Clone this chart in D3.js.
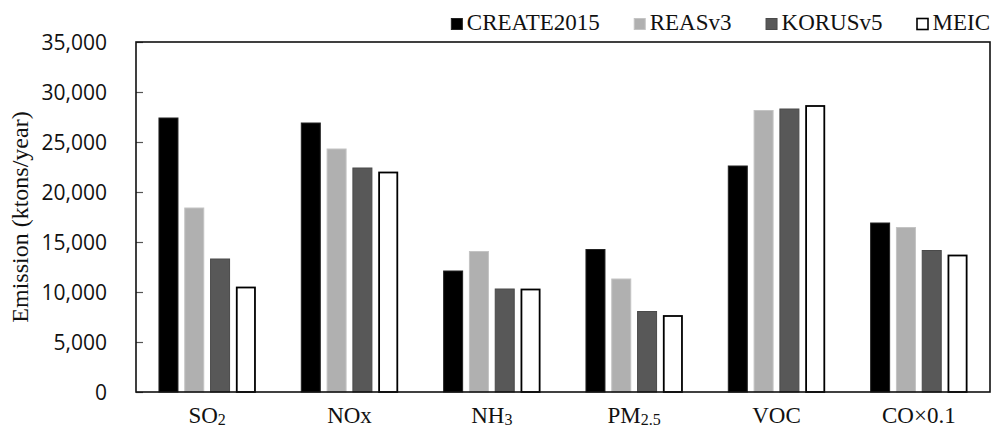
<!DOCTYPE html>
<html>
<head>
<meta charset="utf-8">
<script src="https://cdn.jsdelivr.net/npm/d3@7"></script>
<style>
  html, body { margin: 0; padding: 0; background: #fff; }
  svg { display: block; }
</style>
</head>
<body>
<svg id="chart" width="992" height="431"></svg>
<script>
// Pollutant categories (label parts: [text, isSubscript])
const categories = ["SO2", "NOx", "NH3", "PM2.5", "VOC", "CO×0.1"];
const categoryLabels = [
  [["SO", false], ["2", true]],
  [["NOx", false]],
  [["NH", false], ["3", true]],
  [["PM", false], ["2.5", true]],
  [["VOC", false]],
  [["CO×0.1", false]]
];

// Emission inventories
const series = ["CREATE2015", "REASv3", "KORUSv5", "MEIC"];

// Annual emissions (ktons/year) per inventory, in category order
const create2015 = [27400, 26900, 12100, 14250, 22600, 16900];
const reasv3     = [18400, 24300, 14050, 11300, 28150, 16450];
const korusv5    = [13300, 22400, 10300,  8050, 28300, 14150];
const meic       = [10450, 21950, 10250,  7600, 28600, 13650];

const yTicks = [0, 5000, 10000, 15000, 20000, 25000, 30000, 35000];

const seriesValues = [create2015, reasv3, korusv5, meic];
const fills   = ["#000000", "#b0b0b0", "#585858", "#ffffff"];
const strokes = ["#222222", "#c4c4c4", "#4a4a4a", "#000000"];
const strokeW = [1, 1, 1, 1.8];

const svg = d3.select("#chart");
const plotL = 136, plotR = 990, plotT = 42, plotB = 392;

const x0 = d3.scaleBand().domain(categories).range([plotL, plotR]).padding(0);
const bw0 = x0.bandwidth();
const x1 = d3.scaleBand().domain(series)
  .range([(bw0 - 97.4) / 2, (bw0 + 97.4) / 2])
  .paddingInner(0.225).paddingOuter(0);
const y = d3.scaleLinear().domain([0, 35000]).range([plotB, plotT]);

const serif = "'Liberation Serif', 'Times New Roman', serif";
const sans = "'Open Sans', 'Noto Sans', sans-serif";

// Bars
const rows = categories.map((c, i) => ({ cat: c, vals: series.map((s, j) => ({ s, j, v: seriesValues[j][i] })) }));
const g = svg.append("g");
g.selectAll("g.cat").data(rows).join("g")
  .attr("class", "cat")
  .attr("transform", d => `translate(${x0(d.cat)},0)`)
  .selectAll("rect").data(d => d.vals).join("rect")
  .attr("x", d => x1(d.s) + strokeW[d.j] / 2)
  .attr("width", d => x1.bandwidth() - strokeW[d.j])
  .attr("y", d => y(d.v))
  .attr("height", d => y(0) - y(d.v))
  .attr("fill", d => fills[d.j])
  .attr("stroke", d => strokes[d.j])
  .attr("stroke-width", d => strokeW[d.j]);

// Y axis with inward ticks
const yAxis = d3.axisRight(y).tickValues(yTicks).tickSize(7).tickFormat("");
const ya = svg.append("g").attr("transform", `translate(${plotL},0)`).call(yAxis);
ya.select(".domain").remove();
ya.selectAll(".tick line").attr("stroke", "#555").attr("stroke-width", 1.2);

svg.append("g").selectAll("text").data(yTicks).join("text")
  .attr("x", 107).attr("y", d => y(d)).attr("dy", "0.36em")
  .attr("text-anchor", "end")
  .attr("font-family", sans).attr("font-size", 21).attr("fill", "#111")
  .text(d3.format(","));

// Plot frame
svg.append("rect")
  .attr("x", plotL).attr("y", plotT)
  .attr("width", plotR - plotL).attr("height", plotB - plotT)
  .attr("fill", "none").attr("stroke", "#111").attr("stroke-width", 1.6);

// Category labels with lowered subscripts
const xl = svg.append("g").selectAll("text").data(categories).join("text")
  .attr("x", d => x0(d) + bw0 / 2).attr("y", 423)
  .attr("text-anchor", "middle")
  .attr("font-family", serif).attr("font-size", 23).attr("fill", "#111");
xl.each(function(d, i) {
  const t = d3.select(this);
  categoryLabels[i].forEach(([txt, sub]) => {
    const ts = t.append("tspan").text(txt);
    if (sub) ts.attr("font-size", 16).attr("dy", 2);
  });
});

// Y axis title
svg.append("text")
  .attr("transform", `translate(28,${(plotT + plotB) / 2}) rotate(-90)`)
  .attr("text-anchor", "middle")
  .attr("font-family", serif).attr("font-size", 24).attr("fill", "#111")
  .text("Emission (ktons/year)");

// Legend, right-aligned above the frame
const leg = svg.append("g");
const items = series.map((s, j) => {
  const it = leg.append("g");
  it.append("rect").attr("x", 0.5).attr("y", 18.5).attr("width", 11).attr("height", 11)
    .attr("fill", fills[j]).attr("stroke", j === 3 ? "#000" : strokes[j]).attr("stroke-width", j === 3 ? 1.6 : 1);
  const tx = it.append("text").attr("x", 16).attr("y", 30)
    .attr("font-family", serif).attr("font-size", 23).attr("fill", "#111").text(s);
  return { it, w: 16 + tx.node().getComputedTextLength() };
});
const gap = 34;
const total = d3.sum(items, d => d.w) + gap * (items.length - 1);
let cx = 990 - total;
items.forEach(d => { d.it.attr("transform", `translate(${cx},0)`); cx += d.w + gap; });
</script>
</body>
</html>
